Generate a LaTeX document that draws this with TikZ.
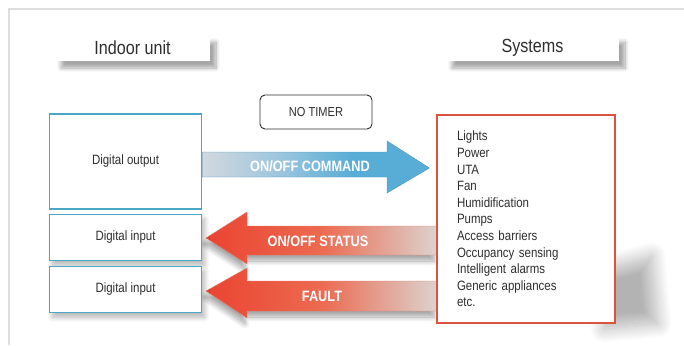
\documentclass[tikz,border=0pt]{standalone}
\usepackage{fontspec}
\setmainfont{Liberation Sans}[FakeStretch=0.85]
\usetikzlibrary{positioning, calc, backgrounds, shadows.blur}

\definecolor{textgray}{HTML}{2E2E2E}
\definecolor{framegray}{HTML}{DEDEDE}
\definecolor{boxblue}{HTML}{4AA8C6}
\definecolor{sysred}{HTML}{D9533F}
\definecolor{cmdgray}{HTML}{D3D8DE}
\definecolor{cmdmid}{HTML}{9CC6DE}
\definecolor{cmdblue}{HTML}{58ADD6}
\definecolor{arrowred}{HTML}{EA4431}
\definecolor{arrowredl}{HTML}{EC6A50}
\definecolor{fadegray}{HTML}{DCD2CE}

% gradients of the big arrows
\pgfdeclarehorizontalshading{cmdshade}{100bp}{color(0bp)=(cmdgray); color(25bp)=(cmdgray); color(42bp)=(cmdmid); color(58bp)=(cmdblue); color(100bp)=(cmdblue)}
\pgfdeclarehorizontalshading{redshade}{100bp}{color(0bp)=(arrowred); color(25bp)=(arrowred); color(50bp)=(arrowredl); color(75bp)=(fadegray); color(100bp)=(fadegray)}

\begin{document}
\begin{tikzpicture}[
    x=1pt, y=-1pt,
    header/.style={
        fill=white, inner sep=0pt,
        minimum height=26pt,
        font=\fontsize{19}{22}\selectfont, text=textgray,
        blur shadow={shadow xshift=6pt, shadow yshift=-7pt, shadow blur radius=4pt, shadow blur steps=10, shadow opacity=35}
    },
    unitbox/.style={
        draw=boxblue, line width=1.1pt, fill=white,
        minimum width=152pt, inner sep=0pt,
        font=\fontsize{13.5}{16}\selectfont, text=textgray
    },
    shadowed/.style={blur shadow={shadow xshift=3pt, shadow yshift=-5pt, shadow blur radius=5pt, shadow blur steps=10, shadow opacity=30}},
    sysbox/.style={
        draw=sysred, line width=1.3pt, fill=white,
        minimum width=178pt, minimum height=208pt,
        inner xsep=20pt, text width=138pt, align=left,
        font=\fontsize{13.5}{16.6}\selectfont, text=textgray
    },
    timerbox/.style={
        draw=textgray, line width=0.9pt, rounded corners=5pt,
        minimum width=112pt, minimum height=34pt,
        font=\fontsize{13}{15}\selectfont, text=textgray
    },
    cmd arrow/.style={shading=cmdshade, draw=cmdblue!85!black, line width=0.4pt},
    red arrow/.style={shading=redshade, draw=arrowred!60!fadegray, line width=0.4pt,
        blur shadow={shadow xshift=-2pt, shadow yshift=-6pt, shadow blur radius=5pt, shadow blur steps=10, shadow opacity=35}},
    arrow label/.style={font=\bfseries\fontsize{15}{17}\selectfont, text=white, inner sep=0pt}
]
\useasboundingbox (0,0) rectangle (684,345);

% page frame
\draw[framegray, line width=2.5pt] (9,345) -- (9,9) -- (684,9);

% Headers
\node[header, minimum width=155pt] (indoor) at (132.5,48) {Indoor unit};
\node[header, minimum width=173pt] (systems) at (532.5,48) {Systems};
\node[timerbox] (notimer) at (316,112) {NO TIMER};

% Indoor unit side
\node[unitbox, minimum height=95pt] (dout) at (125.5,161.5) {Digital output};
\node[unitbox, shadowed, minimum height=46pt, below=4pt of dout] (din1) {Digital input};
\node[unitbox, shadowed, minimum height=46pt, below=5pt of din1] (din2) {Digital input};

% Systems list
\path[blur shadow={shadow xshift=0pt, shadow yshift=0pt, shadow blur radius=14pt, shadow blur steps=16, shadow opacity=30}]
    (598,270) -- (652,256) -- (658,324) -- (604,329) -- cycle;
\node[sysbox] (sys) at (526,219) {Lights\\Power\\UTA\\Fan\\Humidification\\Pumps\\Access barriers\\Occupancy sensing\\Intelligent alarms\\Generic appliances\\etc.};

% Arrows
\begin{scope}[on background layer]
    \path[cmd arrow] (dout.east |- 0,152) -- (387,152) -- (387,141) -- ([xshift=-7pt]sys.west |- 0,168)
        -- (387,193) -- (387,177) -- (dout.east |- 0,177) -- cycle;
    \path[red arrow] (sys.west |- 0,226) -- (247,226) -- (247,212) -- ([xshift=4pt]din1.east |- 0,238)
        -- (247,264) -- (247,255) -- (sys.west |- 0,255) -- cycle;
    \path[red arrow] (sys.west |- 0,281) -- (247,281) -- (247,268) -- ([xshift=4pt]din2.east |- 0,291)
        -- (247,318) -- (247,311) -- (sys.west |- 0,311) -- cycle;
\end{scope}
\node[arrow label] (cmdlbl) at (310,166) {ON/OFF COMMAND};
\node[arrow label] (statlbl) at (318,241) {ON/OFF STATUS};
\node[arrow label] (faultlbl) at (322,296) {FAULT};

\end{tikzpicture}
\end{document}
